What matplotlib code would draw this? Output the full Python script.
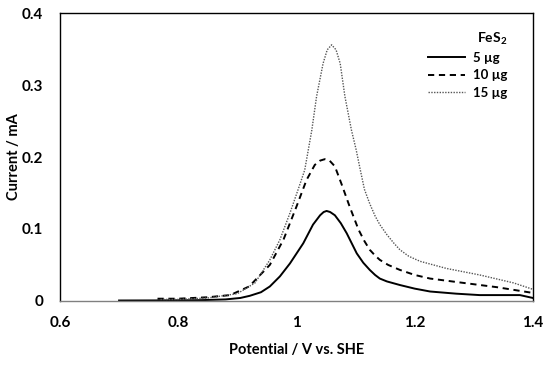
import numpy as np
import matplotlib
matplotlib.use("Agg")
import matplotlib.pyplot as plt

plt.rcParams["font.family"] = ["Lato", "DejaVu Sans"]
plt.rcParams["font.weight"] = "bold"

# 5 ug FeS2
v5 = [0.70, 0.76, 0.80, 0.84, 0.88, 0.905, 0.921, 0.94, 0.955, 0.972, 0.989, 1.0115,
      1.028, 1.040, 1.046, 1.051, 1.057, 1.065, 1.075, 1.085, 1.102, 1.113, 1.124, 1.133,
      1.141, 1.153, 1.175, 1.200, 1.226, 1.270, 1.310, 1.345, 1.378, 1.4]
i5 = [0.0005, 0.0006, 0.0008, 0.001, 0.002, 0.004, 0.007, 0.012, 0.020, 0.034, 0.052, 0.080,
      0.106, 0.119, 0.1235, 0.125, 0.1235, 0.119, 0.108, 0.094, 0.066, 0.053, 0.043, 0.036,
      0.031, 0.027, 0.022, 0.017, 0.013, 0.010, 0.008, 0.008, 0.008, 0.004]

# 10 ug FeS2
v10 = [0.765, 0.80, 0.85, 0.888, 0.92, 0.955, 0.978, 1.0, 1.017, 1.031, 1.040, 1.048, 1.056,
       1.065, 1.076, 1.090, 1.105, 1.115, 1.124, 1.133, 1.141, 1.155, 1.175, 1.200, 1.226,
       1.282, 1.339, 1.4]
i10 = [0.003, 0.003, 0.005, 0.008, 0.020, 0.050, 0.085, 0.131, 0.168, 0.189, 0.195, 0.197, 0.195,
       0.187, 0.163, 0.131, 0.099, 0.083, 0.071, 0.063, 0.057, 0.050, 0.043, 0.036, 0.031,
       0.025, 0.019, 0.011]

# 15 ug FeS2
v15 = [0.77, 0.80, 0.85, 0.90, 0.93, 0.955, 0.972, 0.989, 1.005, 1.014, 1.026, 1.034,
       1.045, 1.052, 1.0595, 1.067, 1.074, 1.082, 1.093, 1.101, 1.108, 1.115, 1.124, 1.133,
       1.141, 1.153, 1.165, 1.175, 1.190, 1.209, 1.254, 1.310, 1.367, 1.4]
i15 = [0.002, 0.002, 0.004, 0.010, 0.025, 0.057, 0.085, 0.122, 0.160, 0.182, 0.2375, 0.284,
       0.330, 0.349, 0.356, 0.349, 0.330, 0.284, 0.2375, 0.210, 0.182, 0.155, 0.135, 0.118,
       0.106, 0.092, 0.080, 0.071, 0.062, 0.055, 0.045, 0.036, 0.025, 0.016]

fig = plt.figure(figsize=(5.5, 3.66), dpi=100)
ax = fig.add_axes([0.109, 0.178, 0.860, 0.786])

ax.plot(v5, i5, color="black", linewidth=1.4, linestyle="-", label="5 µg")
ax.plot(v10, i10, color="black", linewidth=1.4, linestyle=(0, (3.2, 2.4)), label="10 µg")
ax.plot(v15, i15, color="#555555", linewidth=1.0, linestyle=(0, (1, 1)), label="15 µg")

ax.set_xlim(0.6, 1.4)
ax.set_ylim(0, 0.4)
ax.set_xticks([0.6, 0.8, 1.0, 1.2, 1.4])
ax.set_xticklabels(["0.6", "0.8", "1", "1.2", "1.4"])
ax.set_yticks([0, 0.1, 0.2, 0.3, 0.4])
ax.set_yticklabels(["0", "0.1", "0.2", "0.3", "0.4"])
ax.tick_params(length=0, labelsize=11)
ax.tick_params(axis="x", pad=11)
ax.tick_params(axis="y", pad=12)
for lbl in ax.get_xticklabels() + ax.get_yticklabels():
    lbl.set_fontweight("bold")

for s in ax.spines.values():
    s.set_color("black")
    s.set_linewidth(1.0)
ax.spines["bottom"].set_color("#808080")

ax.set_xlabel("Potential / V vs. SHE", fontsize=10.5, fontweight="bold")
ax.set_ylabel("Current / mA", fontsize=10.5, fontweight="bold")
ax.xaxis.set_label_coords(0.5, -0.145)
ax.yaxis.set_label_coords(-0.082, 0.5)

leg = ax.legend(title="FeS$_\\mathregular{2}$", loc="upper right", bbox_to_anchor=(0.945, 0.94),
                frameon=False, fontsize=9.5, title_fontproperties={"weight": "bold", "size": 10},
                handlelength=2.8, handletextpad=0.6, labelspacing=0.4, borderpad=0.0,
                borderaxespad=0.0)
leg._legend_box.align = "right"
for t in leg.get_texts():
    t.set_fontweight("bold")

fig.savefig("out.png", dpi=100)
